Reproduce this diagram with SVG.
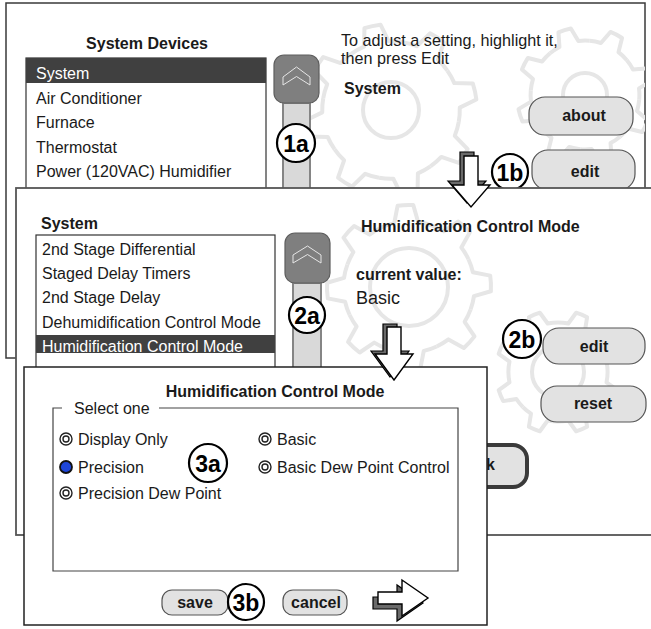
<svg xmlns="http://www.w3.org/2000/svg" xmlns:xlink="http://www.w3.org/1999/xlink" width="651" height="629" viewBox="0 0 651 629">
<style>
.t{font-family:"Liberation Sans",Arial,sans-serif;font-size:16px;fill:#1a1a1a}
.b{font-weight:bold}
.w{fill:#ffffff}
.m{text-anchor:middle}
.panel{fill:#ffffff;stroke:#3a3a3a;stroke-width:1.5}
.list{fill:#ffffff;stroke:#333;stroke-width:1.2}
.hl{fill:#404040}
.btn{fill:#e2e2e2;stroke:#555;stroke-width:1.2}
.up{fill:#7f7f7f;stroke:#5e5e5e;stroke-width:1.2}
.chev{fill:none;stroke:#e6e6e6;stroke-width:1}
.track{fill:#d9d9d9;stroke:#858585;stroke-width:2}
.badge circle{fill:#ffffff;stroke:#000;stroke-width:2.2}
.badge text{font-family:"Liberation Sans",Arial,sans-serif;font-size:23px;font-weight:bold;text-anchor:middle;fill:#000}
.gear{fill:none;stroke:#e6e6e6;stroke-width:4;stroke-linejoin:round}
.radio{fill:#fff;stroke:#222;stroke-width:1.4}
.arrF{fill:#ffffff;stroke:#000;stroke-width:1.4;stroke-linejoin:miter}
.arrB{fill:#6a6a6a;stroke:#000;stroke-width:1.2}
</style>
<defs>
<path id="tooth" d="M0.8,0 A0.8,0.8 0 0 1 0.7825,0.1663 L0.9563,0.2924 A1,1 0 0 1 0.8829,0.4695 L0.6709,0.4357 A0.8,0.8 0 0 1 0.5657,0.5657" vector-effect="non-scaling-stroke"/>
<g id="gearShape">
<use xlink:href="#tooth"/>
<use xlink:href="#tooth" transform="rotate(45)"/>
<use xlink:href="#tooth" transform="rotate(90)"/>
<use xlink:href="#tooth" transform="rotate(135)"/>
<use xlink:href="#tooth" transform="rotate(180)"/>
<use xlink:href="#tooth" transform="rotate(225)"/>
<use xlink:href="#tooth" transform="rotate(270)"/>
<use xlink:href="#tooth" transform="rotate(315)"/>
</g>
<clipPath id="clip1"><rect x="6" y="3" width="639" height="355"/></clipPath>
</defs>

<g id="panel-system-devices">
<rect class="panel" x="6" y="3" width="639" height="355"/>
<g clip-path="url(#clip1)">
<use class="gear" xlink:href="#gearShape" transform="translate(391,110) rotate(10) scale(86)"/>
<circle class="gear" cx="391" cy="110" r="28"/>
<use class="gear" xlink:href="#gearShape" transform="translate(585,95) rotate(5) scale(68)"/>
<circle class="gear" cx="585" cy="95" r="22"/>
</g>
<text class="t b m" x="147" y="49">System Devices</text>
<rect class="list" x="26" y="58" width="240" height="142"/>
<rect class="hl" x="26" y="58" width="240" height="25"/>
<text class="t w" x="36" y="79">System</text>
<text class="t" x="36" y="104">Air Conditioner</text>
<text class="t" x="36" y="128">Furnace</text>
<text class="t" x="36" y="152.5">Thermostat</text>
<text class="t" x="36" y="176.5">Power (120VAC) Humidifier</text>
<rect class="track" x="283" y="103" width="27" height="100"/>
<rect class="up" x="274" y="55" width="45" height="48" rx="10"/>
<polygon class="chev" points="283,77 296.5,67 310,77 310,85 296.5,76.5 283,85"/>
<g class="badge"><circle cx="296" cy="143" r="19"/><text x="296" y="151.5">1a</text></g>
<text class="t" x="341" y="46" style="font-size:16.2px">To adjust a setting, highlight it,</text>
<text class="t" x="341" y="64" style="font-size:16.2px">then press Edit</text>
<text class="t b" x="344" y="94">System</text>
<rect class="btn" x="529" y="97" width="104" height="38" rx="16"/>
<text class="t b m" x="584" y="121">about</text>
<rect class="btn" x="532" y="150" width="103" height="40" rx="16"/>
<text class="t b m" x="585" y="177">edit</text>
<g class="badge"><circle cx="510" cy="172" r="18"/><text x="510" y="180.5">1b</text></g>
</g>

<g id="panel-system">
<rect class="panel" x="16" y="188" width="660" height="347" style="stroke:#555;stroke-width:1.8"/>
<use class="gear" xlink:href="#gearShape" transform="translate(409,287) rotate(20) scale(82)"/>
<circle class="gear" cx="409" cy="287" r="39"/>
<use class="gear" xlink:href="#gearShape" transform="translate(558,372) rotate(0) scale(62)"/>
<circle class="gear" cx="558" cy="372" r="26"/>
<text class="t b" x="41" y="229">System</text>
<rect class="list" x="36" y="235" width="239" height="145"/>
<text class="t" x="42" y="255">2nd Stage Differential</text>
<text class="t" x="42" y="279">Staged Delay Timers</text>
<text class="t" x="42" y="303">2nd Stage Delay</text>
<text class="t" x="42" y="328">Dehumidification Control Mode</text>
<rect class="hl" x="36" y="335" width="239" height="18"/>
<text class="t w" x="42" y="351.5">Humidification Control Mode</text>
<rect class="track" x="293" y="283" width="28" height="100"/>
<rect class="up" x="285" y="233" width="45" height="50" rx="10"/>
<polygon class="chev" points="293,255 307.5,246 321,255 321,263 307.5,254.5 293,263"/>
<g class="badge"><circle cx="307" cy="315" r="18"/><text x="307" y="323.5">2a</text></g>
<text class="t b" x="361" y="232">Humidification Control Mode</text>
<text class="t b" x="356" y="280">current value:</text>
<text class="t" x="356" y="304" style="font-size:18px">Basic</text>
<g class="badge"><circle cx="522" cy="339" r="19"/><text x="522" y="347.5">2b</text></g>
<rect class="btn" x="543" y="328" width="102" height="36" rx="16"/>
<text class="t b m" x="594" y="352">edit</text>
<rect class="btn" x="541" y="386" width="105" height="36" rx="16"/>
<text class="t b m" x="593" y="409">reset</text>
<rect class="btn" x="420" y="445" width="107" height="42" rx="14" style="stroke:#3a3a3a;stroke-width:4"/>
<text class="t b" x="486" y="470">k</text>
</g>

<g id="panel-humidification-mode">
<rect class="panel" x="24" y="367" width="463" height="258" style="stroke:#222"/>
<text class="t b m" x="275" y="397">Humidification Control Mode</text>
<path d="M62,408 H53 V571 H458 V408 H159" fill="none" stroke="#444" stroke-width="1.2"/>
<text class="t" x="74" y="414">Select one</text>
<circle class="radio" cx="66" cy="439" r="6"/><circle class="radio" cx="66" cy="439" r="3"/>
<text class="t" x="78" y="445">Display Only</text>
<circle cx="66" cy="467" r="6" fill="#1e46d8" stroke="#111" stroke-width="1.8"/>
<text class="t" x="78" y="473">Precision</text>
<circle class="radio" cx="66" cy="493" r="6"/><circle class="radio" cx="66" cy="493" r="3"/>
<text class="t" x="78" y="499">Precision Dew Point</text>
<circle class="radio" cx="265" cy="439" r="6"/><circle class="radio" cx="265" cy="439" r="3"/>
<text class="t" x="277" y="445">Basic</text>
<circle class="radio" cx="265" cy="467" r="6"/><circle class="radio" cx="265" cy="467" r="3"/>
<text class="t" x="277" y="473">Basic Dew Point Control</text>
<g class="badge"><circle cx="208" cy="463" r="19"/><text x="208" y="471.5">3a</text></g>
<rect class="btn" x="162" y="590" width="66" height="25" rx="10"/>
<text class="t b m" x="195" y="608">save</text>
<rect class="btn" x="283" y="590" width="64" height="25" rx="10"/>
<text class="t b m" x="316" y="608">cancel</text>
<g class="badge"><circle cx="246" cy="602" r="18"/><text x="246" y="610.5">3b</text></g>
</g>

<g id="connectors">
<g id="arrow-1b">
<polygon class="arrB" points="460,152 474,152 474,181 486,181 467,203 448,181 460,181"/>
<polygon class="arrF" points="464,156 478,156 478,185 490,185 471,207 452,185 464,185"/>
</g>
<g id="arrow-2">
<polygon class="arrB" points="383,324 397,324 397,351 409,351 390,377 371,351 383,351"/>
<polygon class="arrF" points="387,327 401,327 401,354 413,354 394,380 375,354 387,354"/>
</g>
<g id="arrow-next">
<polygon class="arrB" points="373,597 397,597 397,585 423,603 397,621 397,609 373,609"/>
<polygon class="arrF" points="378,592 402,592 402,580 428,598 402,616 402,604 378,604"/>
</g>
</g>
</svg>
